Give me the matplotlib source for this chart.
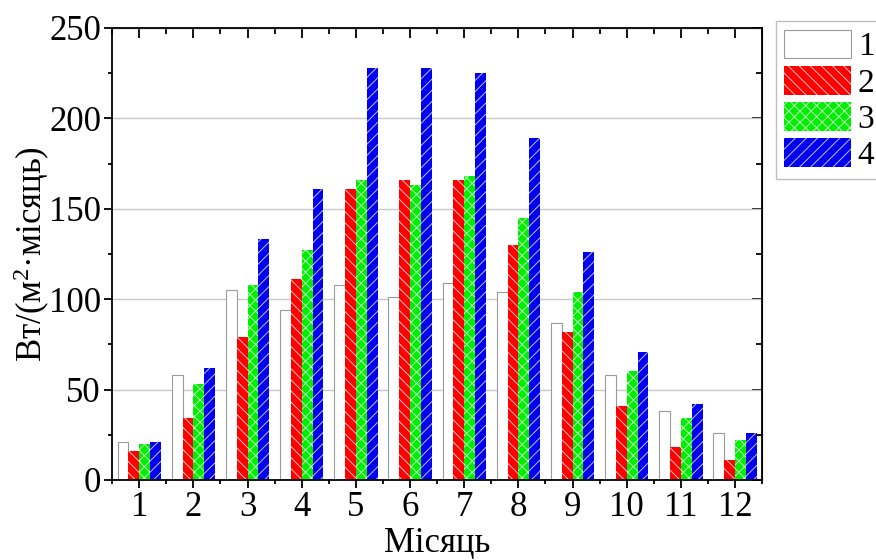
import os
os.environ.setdefault('MPLBACKEND', 'Agg')
import matplotlib.pyplot as plt
from matplotlib import rcParams
from matplotlib.patches import Patch
from matplotlib.ticker import MultipleLocator, FixedLocator
import numpy as np

rcParams.update({
    "font.family": ["Liberation Serif", "DejaVu Serif"],
    "mathtext.fontset": "custom",
    "mathtext.rm": "Liberation Serif",
    "mathtext.it": "Liberation Serif:italic",
    "hatch.linewidth": 0.7,
})

# Data
months = [1, 2, 3, 4, 5, 6, 7, 8, 9, 10, 11, 12]
series_labels = ["1", "2", "3", "4"]
s1 = [21, 58, 105, 94, 108, 101, 109, 104, 87, 58, 38, 26]
s2 = [16, 34, 79, 111, 161, 166, 166, 130, 82, 41, 18, 11]
s3 = [20, 53, 108, 127, 166, 163, 168, 145, 104, 60, 34, 22]
s4 = [21, 62, 133, 161, 228, 228, 225, 189, 126, 71, 42, 26]

# Styles
red = "#ff0000"
green = "#00ee00"
blue = "#0000ee"
hatch_col = "#ffffffc0"
grid_grey = "#c8c8c8"

fig = plt.figure(figsize=(8.76, 5.6), dpi=100)
ax = fig.add_axes([0.128, 0.143, 0.742, 0.807])

x = np.array(months, dtype=float)
w = 0.2
ax.bar(x - 0.3, s1, w, facecolor="white", edgecolor="#9a9a9a", linewidth=0.8, zorder=2)
ax.bar(x - 0.1, s2, w, facecolor=red, edgecolor=hatch_col, linewidth=0, hatch="\\\\\\", zorder=2)
ax.bar(x + 0.1, s3, w, facecolor=green, edgecolor=hatch_col, linewidth=0, hatch="xxx", zorder=2)
ax.bar(x + 0.3, s4, w, facecolor=blue, edgecolor=hatch_col, linewidth=0, hatch="///", zorder=2)

ax.set_xlim(0.5, 12.5)
ax.set_ylim(0, 250)
ax.set_xticks(months)
ax.set_xticklabels([str(m) for m in months])
ax.xaxis.set_minor_locator(FixedLocator(np.arange(0.5, 13, 1)))
ax.yaxis.set_major_locator(MultipleLocator(50))
ax.yaxis.set_minor_locator(MultipleLocator(25))

ax.set_axisbelow(True)
ax.yaxis.grid(True, color=grid_grey, linewidth=1)

for s in ax.spines.values():
    s.set_linewidth(1.3)
    s.set_color("black")

ax.tick_params(axis="both", which="major", direction="out", length=6, width=1.3,
               labelsize=25, pad=2)
ax.tick_params(axis="both", which="minor", direction="out", length=3, width=1.3)

# mirrored ticks pointing inward on top and right
top = ax.secondary_xaxis("top")
top.set_xticks(months)
top.xaxis.set_minor_locator(FixedLocator(np.arange(0.5, 13, 1)))
top.tick_params(which="major", direction="in", length=7, width=1.3, labeltop=False)
top.tick_params(which="minor", direction="in", length=4, width=1.3)
right = ax.secondary_yaxis("right")
right.yaxis.set_major_locator(MultipleLocator(50))
right.yaxis.set_minor_locator(MultipleLocator(25))
right.tick_params(which="major", direction="in", length=7, width=1.3, labelright=False)
right.tick_params(which="minor", direction="in", length=4, width=1.3)

ax.set_xlabel("Місяць", fontsize=25, labelpad=2)
ax.set_ylabel("Вт/(м$^2$·місяць)", fontsize=25, labelpad=-2)

handles = [
    Patch(facecolor="white", edgecolor="#9a9a9a", linewidth=0.8),
    Patch(facecolor=red, edgecolor=hatch_col, linewidth=0, hatch="\\\\\\"),
    Patch(facecolor=green, edgecolor=hatch_col, linewidth=0, hatch="xxx"),
    Patch(facecolor=blue, edgecolor=hatch_col, linewidth=0, hatch="///"),
]
leg = fig.legend(handles, series_labels, loc="upper left", bbox_to_anchor=(0.886, 0.962),
                 fontsize=24, frameon=True, fancybox=False, edgecolor="#b0b0b0",
                 handlelength=2.0, handleheight=0.95, labelspacing=0.1,
                 handletextpad=0.2, borderpad=0.25, borderaxespad=0)
leg.get_frame().set_linewidth(1.0)

fig.savefig("out.png", dpi=100)
